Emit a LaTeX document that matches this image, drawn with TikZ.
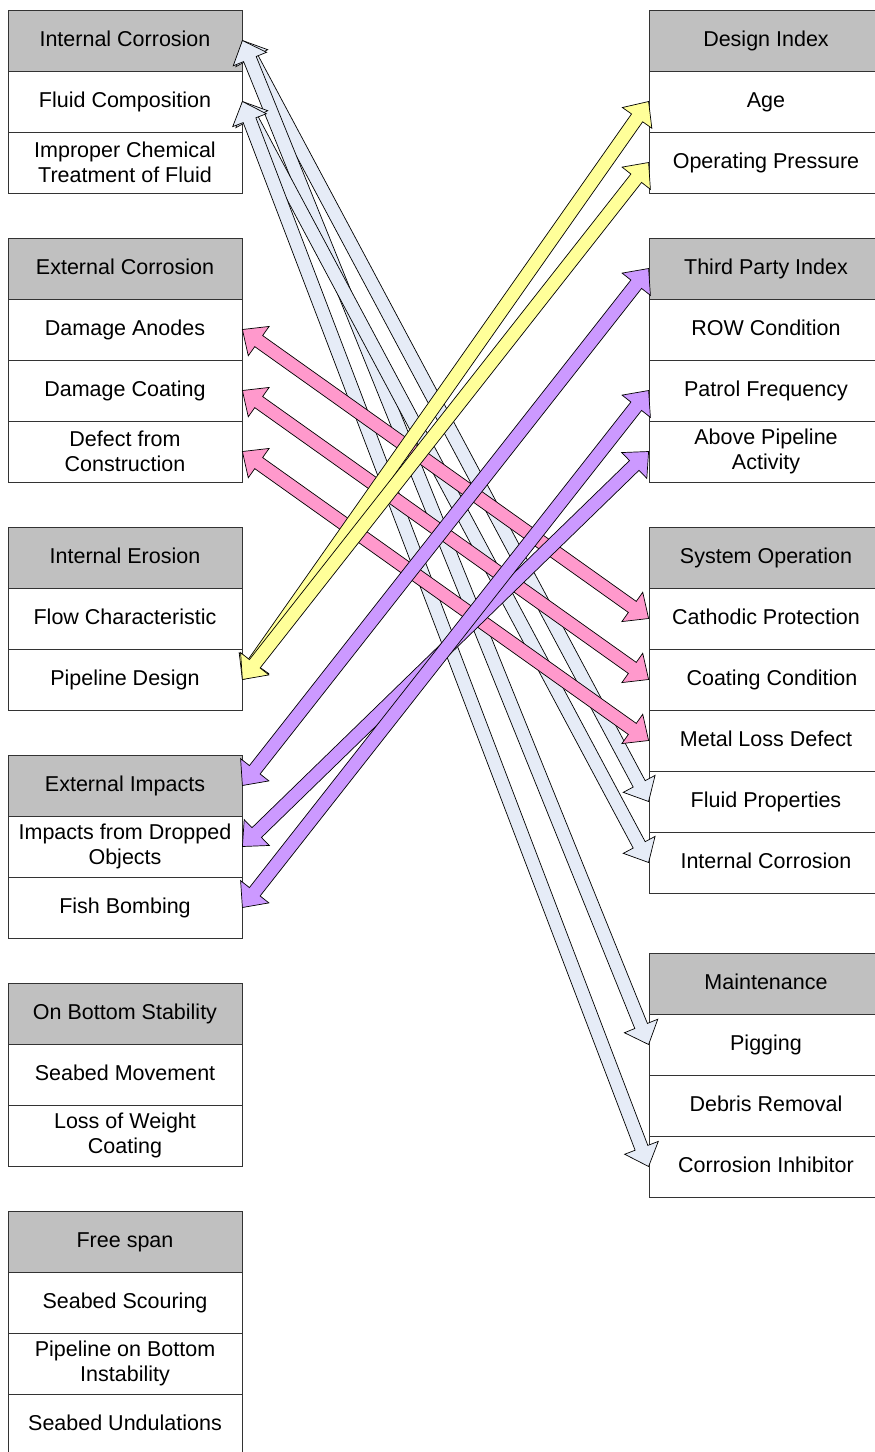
\documentclass[tikz,border=0pt]{standalone}
\usepackage{fontspec}
\setmainfont{Liberation Sans}
\usetikzlibrary{calc}

\definecolor{hdrgray}{HTML}{C0C0C0}
\definecolor{pinkA}{HTML}{FF99CC}
\definecolor{yellowA}{HTML}{FFFF99}
\definecolor{purpleA}{HTML}{CC99FF}
\definecolor{blueA}{HTML}{E6ECF7}

\tikzset{
  cellbase/.style={draw=black!80, line width=0.8pt, fill=white,
    minimum width=234pt, minimum height=61pt, inner sep=0pt,
    align=center, font=\fontsize{21.5}{25}\selectfont},
  cell/.style={cellbase, text height=15.6pt, text depth=4.6pt},
  twoline/.style={cellbase},
  hdr/.style={cell, fill=hdrgray},
  link/.style={draw=black, line width=0.7pt, line join=miter},
}

% double-headed block arrow between two named points
% #1 fill colour, #2 first end, #3 second end
\newcommand\blockarrow[3]{%
  \filldraw[link, fill=#1]
    (#2)
    -- ($(#2)!20pt!(#3)!18pt!90:(#3)$)
    -- ($(#2)!20pt!(#3)!6.8pt!90:(#3)$)
    -- ($(#3)!20pt!(#2)!6.8pt!-90:(#2)$)
    -- ($(#3)!20pt!(#2)!18pt!-90:(#2)$)
    -- (#3)
    -- ($(#3)!20pt!(#2)!18pt!90:(#2)$)
    -- ($(#3)!20pt!(#2)!6.8pt!90:(#2)$)
    -- ($(#2)!20pt!(#3)!6.8pt!-90:(#3)$)
    -- ($(#2)!20pt!(#3)!18pt!-90:(#3)$)
    -- cycle;}

\begin{document}
\begin{tikzpicture}[x=1pt,y=-1pt]
\useasboundingbox (0,0) rectangle (875,1452);

% left column: causes
\node[hdr]     (icH)  at (125,40.5)   {Internal Corrosion};
\node[cell]    (fc)   at (125,101.5)  {Fluid Composition};
\node[twoline] (ict)  at (125,162.5)  {Improper Chemical\\Treatment of Fluid};

\node[hdr]     (ecH)  at (125,268.5)  {External Corrosion};
\node[cell]    (da)   at (125,329.5)  {Damage Anodes};
\node[cell]    (dc)   at (125,390.5)  {Damage Coating};
\node[twoline] (dfc)  at (125,451.5)  {Defect from\\Construction};

\node[hdr]     (ieH)  at (125,557.5)  {Internal Erosion};
\node[cell]    (flc)  at (125,618.5)  {Flow Characteristic};
\node[cell]    (pd)   at (125,679.5)  {Pipeline Design};

\node[hdr]     (eiH)  at (125,785.5)  {External Impacts};
\node[twoline] (ido)  at (125,846.5)  {Impacts from Dropped\\Objects};
\node[cell]    (fb)   at (125,907.5)  {Fish Bombing};

\node[hdr]     (obsH) at (125,1013.5) {On Bottom Stability};
\node[cell]    (sm)   at (125,1074.5) {Seabed Movement};
\node[twoline] (lwc)  at (125,1135.5) {Loss of Weight\\Coating};

\node[hdr]     (fsH)  at (125,1241.5) {Free span};
\node[cell]    (ss)   at (125,1302.5) {Seabed Scouring};
\node[twoline] (pobi) at (125,1363.5) {Pipeline on Bottom\\Instability};
\node[cell]    (su)   at (125,1424.5) {Seabed Undulations};

% right column: indices
\node[hdr]     (diH)  at (766,40.5)   {Design Index};
\node[cell]    (age)  at (766,101.5)  {Age};
\node[cell]    (op)   at (766,162.5)  {Operating Pressure};

\node[hdr]     (tpH)  at (766,268.5)  {Third Party Index};
\node[cell]    (row)  at (766,329.5)  {ROW Condition};
\node[cell]    (pf)   at (766,390.5)  {Patrol Frequency};
\node[twoline] (apa)  at (766,451.5)  {Above Pipeline\\Activity};

\node[hdr]     (soH)  at (766,557.5)  {System Operation};
\node[cell]    (cp)   at (766,618.5)  {Cathodic Protection};
\node[cell]    (cc)   at (766,679.5)  {\hspace{12pt}Coating Condition};
\node[cell]    (mld)  at (766,740.5)  {Metal Loss Defect};
\node[cell]    (fp)   at (766,801.5)  {Fluid Properties};
\node[cell]    (ric)  at (766,862.5)  {Internal Corrosion};

\node[hdr]     (mH)   at (766,983.5)  {Maintenance};
\node[cell]    (pig)  at (766,1044.5) {Pigging};
\node[cell]    (dr)   at (766,1105.5) {Debris Removal};
\node[cell]    (ci)   at (766,1166.5) {Corrosion Inhibitor};

% links
\blockarrow{blueA}{icH.east}{fp.west}
\blockarrow{blueA}{icH.east}{pig.west}
\blockarrow{blueA}{fc.east}{ric.west}
\blockarrow{blueA}{fc.east}{ci.west}

\blockarrow{pinkA}{da.east}{cp.west}
\blockarrow{pinkA}{dc.east}{cc.west}
\blockarrow{pinkA}{dfc.east}{mld.west}

\blockarrow{yellowA}{pd.east}{age.west}
\blockarrow{yellowA}{pd.east}{op.west}

\blockarrow{purpleA}{eiH.east}{tpH.west}
\blockarrow{purpleA}{ido.east}{apa.west}
\blockarrow{purpleA}{fb.east}{pf.west}
\end{tikzpicture}
\end{document}
